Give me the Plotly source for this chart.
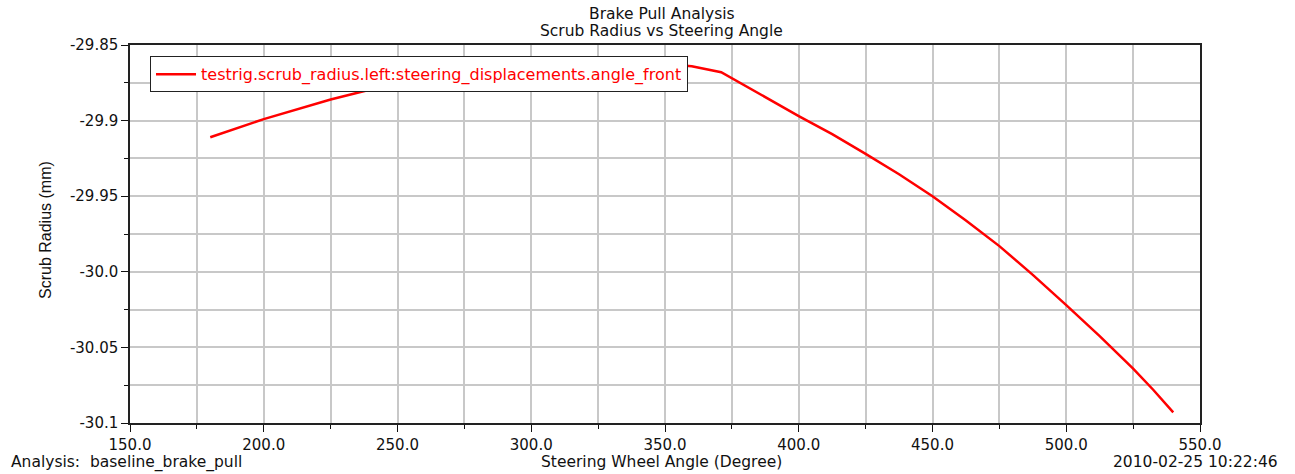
import plotly.graph_objects as go

# Steering wheel angle (deg) and left scrub radius (mm)
steer_angle = [180, 200, 225, 250, 275, 300, 325, 350, 360, 371, 400, 412.5, 425, 437.5, 450,
               462.5, 475, 487.5, 500, 512.5, 525, 532.5, 540]
scrub_radius = [-29.911, -29.899, -29.886, -29.875, -29.869, -29.865, -29.8625, -29.8625, -29.864, -29.868,
                -29.897, -29.909, -29.922, -29.9355, -29.950, -29.966, -29.983, -30.002, -30.022,
                -30.0425, -30.064, -30.078, -30.093]

x_ticks = [150, 200, 250, 300, 350, 400, 450, 500, 550]
x_tick_text = ["150.0", "200.0", "250.0", "300.0", "350.0", "400.0", "450.0", "500.0", "550.0"]
y_ticks = [-30.1, -30.05, -30.0, -29.95, -29.9, -29.85]
y_tick_text = ["-30.1", "-30.05", "-30.0", "-29.95", "-29.9", "-29.85"]

series_name = "testrig.scrub_radius.left:steering_displacements.angle_front"

WIDE = "DejaVu Sans, Verdana, sans-serif"
NARROW = "Liberation Sans Narrow, Arial Narrow, Liberation Sans, sans-serif"
GRID = "#c8c8c8"
TEXT = "#111"

fig = go.Figure()
fig.add_trace(go.Scatter(
    x=steer_angle, y=scrub_radius, mode="lines", name=series_name,
    line=dict(color="#ff0000", width=2.5),
))

axis_common = dict(
    showgrid=True, gridcolor=GRID, gridwidth=1.5,
    ticks="outside", ticklen=7, tickcolor=TEXT,
    showline=True, linecolor="#222", linewidth=1.5, mirror=True,
    zeroline=False, tickfont=dict(family=WIDE, size=15, color=TEXT),
)

fig.update_layout(
    width=1295, height=474,
    margin=dict(l=130, r=95, t=45, b=51),
    paper_bgcolor="white", plot_bgcolor="white",
    font=dict(family=WIDE, size=15.5, color=TEXT),
    showlegend=True,
    legend=dict(
        x=0.0187, y=0.97, xanchor="left", yanchor="top",
        bgcolor="white", bordercolor="#222", borderwidth=1,
        font=dict(family=WIDE, size=16, color="#ff0000"),
        itemwidth=40, tracegroupgap=0,
    ),
    xaxis=dict(
        range=[150, 550], tickvals=x_ticks, ticktext=x_tick_text,
        minor=dict(dtick=25, tick0=150, ticks="outside", ticklen=4, tickcolor=TEXT,
                   showgrid=True, gridcolor=GRID, gridwidth=1.5),
        **axis_common,
    ),
    yaxis=dict(
        range=[-30.1, -29.85], tickvals=y_ticks, ticktext=y_tick_text,
        minor=dict(dtick=0.025, tick0=-30.1, ticks="outside", ticklen=4, tickcolor=TEXT,
                   showgrid=True, gridcolor=GRID, gridwidth=1.5),
        **axis_common,
    ),
)

# Header lines
fig.add_annotation(text="Brake Pull Analysis", xref="paper", yref="paper",
                   x=0.497, y=1, yshift=31, yanchor="middle", showarrow=False,
                   font=dict(family=WIDE, size=15.5))
fig.add_annotation(text="Scrub Radius vs Steering Angle", xref="paper", yref="paper",
                   x=0.497, y=1, yshift=14, yanchor="middle", showarrow=False,
                   font=dict(family=WIDE, size=15.5))

# Vertical axis title
fig.add_annotation(text="Scrub Radius (mm)", xref="paper", yref="paper",
                   x=0, xshift=-85, y=0.5, yshift=4, textangle=-90, xanchor="center", yanchor="middle",
                   showarrow=False, font=dict(family=NARROW, size=16))

# Footer: analysis name, horizontal axis title, timestamp
fig.add_annotation(text="Analysis:  baseline_brake_pull", xref="paper", yref="paper",
                   x=0, xshift=-121, y=0, yshift=-39, xanchor="left", yanchor="middle",
                   showarrow=False, font=dict(family=WIDE, size=15.5))
fig.add_annotation(text="Steering Wheel Angle (Degree)", xref="paper", yref="paper",
                   x=0.497, y=0, yshift=-39, yanchor="middle",
                   showarrow=False, font=dict(family=WIDE, size=15.5))
fig.add_annotation(text="2010-02-25 10:22:46", xref="paper", yref="paper",
                   x=1, xshift=80, y=0, yshift=-39, xanchor="right", yanchor="middle",
                   showarrow=False, font=dict(family=WIDE, size=15.5))

fig.write_html("out.html")
